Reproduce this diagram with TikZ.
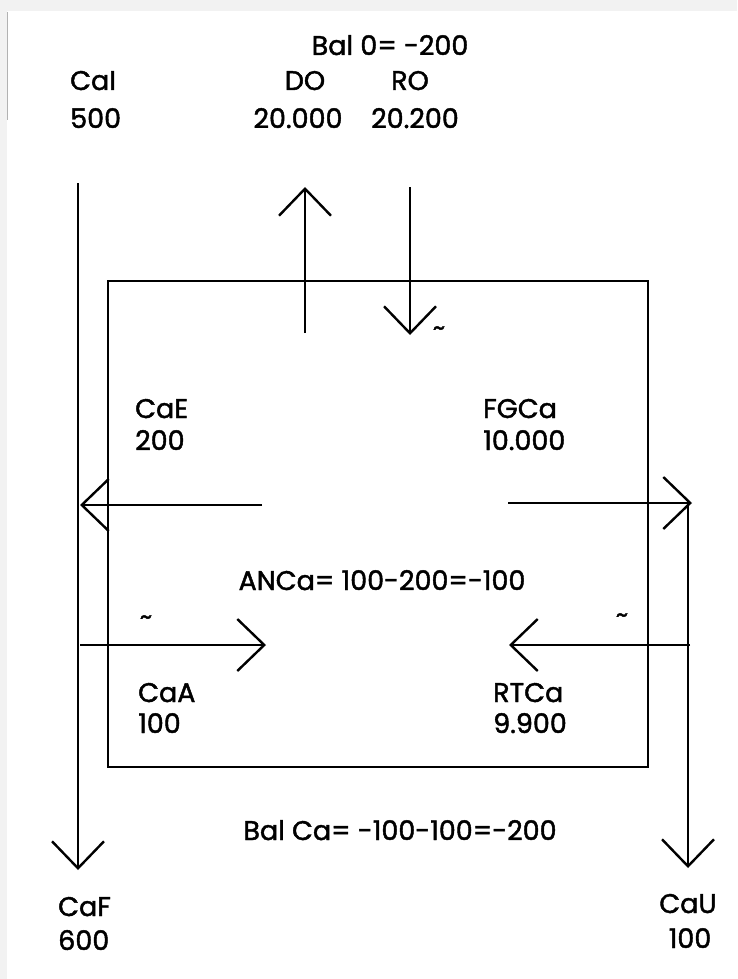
\documentclass[tikz,border=0pt]{standalone}
\usepackage{fontspec}
\setmainfont{Poppins}[FakeBold=1.6]
\usetikzlibrary{arrows.meta}
\definecolor{bggray}{HTML}{F2F2F2}
\tikzset{
  flow/.style={line width=2.4pt,-{Straight Barb[length=27pt,width=52pt,line width=2.4pt]}},
  plain/.style={line width=2.4pt},
  lbl/.style={inner sep=0pt,font=\fontsize{27}{30}\selectfont},
  tld/.style={inner sep=0pt,font=\fontsize{24}{26}\selectfont}
}
\begin{document}
\begin{tikzpicture}[x=1pt,y=-1pt]
\useasboundingbox (0,0) rectangle (737,979);
\fill[bggray] (0,0) rectangle (737,979);
\fill[white] (7,11) rectangle (737,979);
\draw[gray!60,line width=1.5pt] (7.5,12) -- (7.5,120);
% box
\draw[plain] (108,281) rectangle (648,767);
% coordinates
\coordinate (caItop) at (78,183);
\coordinate (caFtip) at (78,870);
\coordinate (dobot) at (305,333);
\coordinate (dotip) at (305,187);
\coordinate (rotop) at (410,187);
\coordinate (rotip) at (410,335);
\coordinate (caEst) at (262,505);
\coordinate (caEtip) at (80,505);
\coordinate (fgst) at (508,503);
\coordinate (fgtip) at (692,503);
\coordinate (caUtop) at (688,503);
\coordinate (caUtip) at (688,868);
\coordinate (caAst) at (80,645);
\coordinate (caAtip) at (266,645);
\coordinate (rtst) at (690,645);
\coordinate (rttip) at (509,645);
% connectors
\draw[flow] (caItop) -- (caFtip);
\draw[flow] (dobot) -- (dotip);
\draw[flow] (rotop) -- (rotip);
\draw[flow] (caEst) -- (caEtip);
\draw[flow] (fgst) -- (fgtip);
\draw[flow] (caUtop) -- (caUtip);
\draw[flow] (caAst) -- (caAtip);
\draw[flow] (rtst) -- (rttip);
% labels
\node[lbl,anchor=base] (bal0) at (390,55) {Bal 0= -200};
\node[lbl,anchor=base west] (caI) at (70,90) {CaI};
\node[lbl,anchor=base west] (caIv) at (70,128) {500};
\node[lbl,anchor=base] (do) at (305,90) {DO};
\node[lbl,anchor=base] (dov) at (298,128) {20.000};
\node[lbl,anchor=base] (ro) at (410,90) {RO};
\node[lbl,anchor=base] (rov) at (415,128) {20.200};
\node[lbl,anchor=base west] (caE) at (135,418) {CaE};
\node[lbl,anchor=base west] (caEv) at (135,450) {200};
\node[lbl,anchor=base west] (fg) at (483,418) {FGCa};
\node[lbl,anchor=base west] (fgv) at (483,450) {10.000};
\node[lbl,anchor=base] (anca) at (382,590) {ANCa= 100-200=-100};
\node[lbl,anchor=base west] (caA) at (138,702) {CaA};
\node[lbl,anchor=base west] (caAv) at (138,733) {100};
\node[lbl,anchor=base west] (rt) at (493,702) {RTCa};
\node[lbl,anchor=base west] (rtv) at (493,733) {9.900};
\node[lbl,anchor=base] (balca) at (400,840) {Bal Ca= -100-100=-200};
\node[lbl,anchor=base west] (caF) at (58,916) {CaF};
\node[lbl,anchor=base west] (caFv) at (58,950) {600};
\node[lbl,anchor=base] (caU) at (688,913) {CaU};
\node[lbl,anchor=base] (caUv) at (690,948) {100};
% tildes
\node[tld] (t1) at (439,331) {\textasciitilde};
\node[tld] (t2) at (146,620) {\textasciitilde};
\node[tld] (t3) at (622,618) {\textasciitilde};
\end{tikzpicture}
\end{document}
